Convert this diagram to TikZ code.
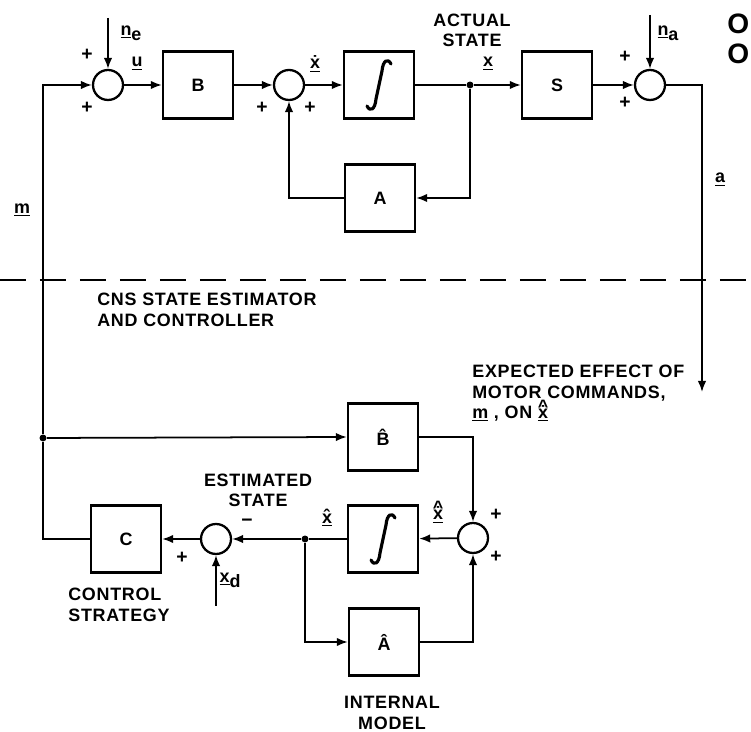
\documentclass[tikz,border=0pt]{standalone}
\usepackage{fontspec}
\setmainfont[LetterSpace=4]{Liberation Sans}
\usepackage{tikz}
\usetikzlibrary{arrows.meta,positioning,calc}
\tikzset{
    blockbox/.style={
        rectangle,
        draw,
        line width=1.4pt,
        minimum width=1.4cm,
        minimum height=1.34cm,
        inner sep=0pt
    },
    sumnode/.style={
        circle,
        draw,
        line width=1.3pt,
        minimum size=0.6cm,
        inner sep=0pt
    },
    junction/.style={
        circle,
        fill,
        inner sep=1.4pt
    },
    signal/.style={
        line width=1pt,
        -{Latex[length=2.2mm,width=1.7mm]}
    },
    wire/.style={
        line width=1pt
    },
    integralsign/.style={
        line width=1.8pt,
        line cap=round
    },
    lbl/.style={
        font=\bfseries\fontsize{10.2}{11.5}\selectfont,
        inner sep=0pt
    },
    sgn/.style={
        font=\bfseries\fontsize{11}{12}\selectfont,
        inner sep=0pt
    }
}
% integral sign drawn inside a block
\newcommand{\integralin}[1]{%
    \begin{scope}[shift={(#1.center)}]
        \draw[integralsign] (12,-21) .. controls (9,-27) and (4,-25) .. (3,-14)
            -- (-3,14) .. controls (-4,25) and (-9,27) .. (-12,21);
    \end{scope}}
% x with a dot and a hat stacked over it
\newcommand{\hatdotx}{\leavevmode\vbox{\offinterlineskip\halign{\hfil##\hfil\cr
    \raisebox{-3pt}[0pt][0pt]{\^{}}\cr\noalign{\kern-1pt}\.{x}\cr}}}

\begin{document}
\begin{tikzpicture}[x=0.02cm,y=-0.02cm]
    \useasboundingbox (0,0) rectangle (751,732);

    % Plant (actual state)
    \node[sumnode] (sumu) at (108,85) {};
    \node[blockbox,lbl] (B) at (198,85) {B};
    \node[sumnode] (sumx) at (289,85) {};
    \node[blockbox] (intx) at (379,85) {};
    \integralin{intx}
    \node[blockbox,lbl] (A) at (380,198) {A};
    \node[blockbox,lbl] (S) at (557,85) {S};
    \node[sumnode] (suma) at (650,85) {};
    \node[junction] (xjun) at (470,85) {};
    \coordinate (ne) at (108,18);
    \coordinate (na) at (650,15);
    \coordinate (aend) at (702,392);

    \draw[signal] (ne) -- (sumu.north);
    \draw[signal] (sumu) -- (B);
    \draw[signal] (B) -- (sumx);
    \draw[signal] (sumx) -- (intx);
    \draw[wire] (intx) -- (xjun);
    \draw[signal] (xjun) -- (S);
    \draw[signal] (xjun) |- (A.east);
    \draw[signal] (A.west) -| (sumx.south);
    \draw[signal] (S) -- (suma);
    \draw[signal] (na) -- (suma.north);
    \draw[signal] (suma.east) -| (aend);

    \node[sgn] at (87,55) {+};
    \node[sgn] at (87,108) {+};
    \node[sgn] at (262,108) {+};
    \node[sgn] at (310,108) {+};
    \node[sgn] at (625,57) {+};
    \node[sgn] at (625,103) {+};

    \node[lbl] (nelbl) at (131,33) {\underline{n}\raisebox{-3pt}{e}};
    \node[lbl] (ulbl) at (137,64) {\underline{u}};
    \node[lbl] (xdotlbl) at (315,64) {\underline{\.{x}}};
    \node[lbl] (xlbl) at (488,64) {\underline{x}};
    \node[lbl,align=center] (actual) at (472,30) {ACTUAL\\STATE};
    \node[lbl] (nalbl) at (668,33) {\underline{n}\raisebox{-3pt}{a}};
    \node[lbl] (albl) at (720,180) {\underline{a}};
    \node[lbl] (mlbl) at (22,210) {\underline{m}};

    % text cut off at the right edge
    \node[font=\bfseries\fontsize{16}{16}\selectfont,inner sep=0pt,anchor=west] (cut1) at (727,24) {O};
    \node[font=\bfseries\fontsize{16}{16}\selectfont,inner sep=0pt,anchor=west] (cut2) at (727,54) {O};

    % Boundary
    \draw[line width=1.2pt,dash pattern=on 0.52cm off 0.28cm] (0,280) -- (751,280);
    \node[lbl,align=left,anchor=north west] (cns) at (97,293) {CNS STATE ESTIMATOR\\AND CONTROLLER};

    % Estimator and controller
    \node[blockbox,lbl] (Bhat) at (383,437) {\^{B}};
    \node[sumnode] (sumxh) at (473,538) {};
    \node[blockbox] (intxh) at (383,539) {};
    \integralin{intxh}
    \node[junction] (xhjun) at (305,539) {};
    \node[sumnode] (sumc) at (216,539) {};
    \node[blockbox,lbl] (C) at (126,539) {C};
    \node[blockbox,lbl] (Ahat) at (384,642) {\^{A}};
    \node[junction] (mjun) at (43,438) {};
    \coordinate (xd) at (216,606);
    \coordinate (mcorner) at (43,85);

    \draw[wire] (C.west) -| (mjun);
    \draw[signal] (mjun) -- (mcorner) -- (sumu.west);
    \draw[signal] (mjun) -- (Bhat.west);
    \draw[signal] (Bhat.east) -| (sumxh.north);
    \draw[signal] (sumxh) -- (intxh);
    \draw[wire] (intxh) -- (xhjun);
    \draw[signal] (xhjun) -- (sumc);
    \draw[signal] (xhjun) |- (Ahat.west);
    \draw[signal] (Ahat.east) -| (sumxh.south);
    \draw[signal] (sumc) -- (C);
    \draw[signal] (xd) -- (sumc.south);

    \node[sgn] at (496,515) {+};
    \node[sgn] at (496,557) {+};
    \node[sgn] at (182,558) {+};
    \node[sgn] at (247,523) {\textminus};

    \node[lbl,align=left,anchor=north west] (expected) at (472,365) {EXPECTED EFFECT OF\\MOTOR COMMANDS,\\\underline{m} , ON \underline{\hatdotx}};
    \node[lbl,align=center] (estimated) at (258,490) {ESTIMATED\\STATE};
    \node[lbl] (xhlbl) at (327,518) {\underline{\^{x}}};
    \node[lbl] (xhdotlbl) at (438,516) {\underline{\hatdotx}};
    \node[lbl] (xdlbl) at (230,580) {\underline{x}\raisebox{-3pt}{d}};
    \node[lbl,align=left,anchor=north west] (strategy) at (68,588) {CONTROL\\STRATEGY};
    \node[lbl,align=center] (internal) at (392,713) {INTERNAL\\MODEL};
\end{tikzpicture}
\end{document}
